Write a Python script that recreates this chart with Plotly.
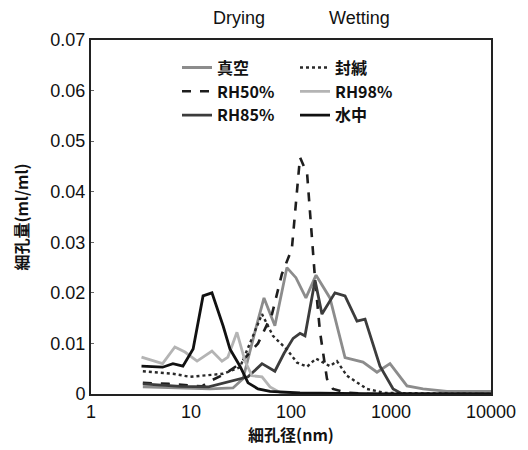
import plotly.graph_objects as go

# ---- data (pore diameter nm, pore volume ml/ml) ----
vac_x = [3.3, 7.8, 15.5, 26.3, 33.1, 43.7, 53.7, 69, 91, 112, 141, 178, 245, 347, 525, 724, 977, 1445, 2089, 3630, 7760, 10000]
vac_y = [0.0014, 0.0012, 0.0010, 0.0012, 0.0030, 0.0124, 0.0190, 0.0135, 0.0250, 0.0230, 0.0190, 0.0235, 0.0190, 0.0072, 0.0063, 0.0043, 0.0060, 0.0016, 0.0010, 0.0005, 0.0006, 0.0005]

rh50_x = [3.3, 6.0, 12.9, 15.0, 21.9, 30.9, 46.8, 64.6, 81, 102, 123, 145, 174, 195, 229, 263, 355, 600, 10000]
rh50_y = [0.0022, 0.0020, 0.0015, 0.0024, 0.0040, 0.0060, 0.0100, 0.0158, 0.0237, 0.0287, 0.0468, 0.0435, 0.0227, 0.0123, 0.0030, 0.0010, 0.0003, 0.0, 0.0]

rh85_x = [3.3, 7.8, 15.0, 37.2, 51.3, 69, 85, 105, 123, 138, 174, 204, 275, 347, 457, 550, 776, 1050, 1300, 10000]
rh85_y = [0.0020, 0.0015, 0.0014, 0.0034, 0.0060, 0.0045, 0.0080, 0.0110, 0.0120, 0.0115, 0.0225, 0.0158, 0.0200, 0.0194, 0.0144, 0.0148, 0.0055, 0.0010, 0.0, 0.0]

sealed_x = [3.3, 6.6, 9.8, 21.0, 30.9, 39.8, 51.3, 66, 91, 115, 145, 178, 245, 288, 363, 575, 870, 10000]
sealed_y = [0.0045, 0.0040, 0.0034, 0.0040, 0.0053, 0.0105, 0.0158, 0.0115, 0.0088, 0.0062, 0.0054, 0.0070, 0.0055, 0.0065, 0.0036, 0.0010, 0.0002, 0.0]

rh98_x = [3.2, 5.2, 6.9, 8.7, 11.5, 16.2, 20.4, 23.4, 28.8, 34.7, 40.7, 51.3, 61.7, 77.6, 123]
rh98_y = [0.0073, 0.0060, 0.0093, 0.0083, 0.0065, 0.0085, 0.0065, 0.0073, 0.0122, 0.0065, 0.0036, 0.0034, 0.0014, 0.0003, 0.0]

water_x = [3.2, 5.2, 6.6, 8.3, 10.5, 13.2, 16.2, 21.0, 24.5, 30.9, 37.2, 46.8, 61.7, 123, 309, 1000, 10000]
water_y = [0.0055, 0.0053, 0.0060, 0.0055, 0.0089, 0.0194, 0.0200, 0.0134, 0.0089, 0.0055, 0.0022, 0.0010, 0.0005, 0.0002, 0.0001, 0.0, 0.0]

x_ticks = [1, 10, 100, 1000, 10000]
y_ticks = [0, 0.01, 0.02, 0.03, 0.04, 0.05, 0.06, 0.07]

FONT = "Liberation Sans, Arial, Noto Sans CJK JP"
CJK = "Noto Sans CJK JP, Liberation Sans"

fig = go.Figure()
series = [
    ("真空", vac_x, vac_y, "#8c8c8c", "solid", 2.8, "legend"),
    ("RH50%", rh50_x, rh50_y, "#1e1e1e", "dash", 2.6, "legend"),
    ("RH85%", rh85_x, rh85_y, "#3c3c3c", "solid", 2.8, "legend"),
    ("封緘", sealed_x, sealed_y, "#2a2a2a", "dot", 2.4, "legend2"),
    ("RH98%", rh98_x, rh98_y, "#b4b4b4", "solid", 2.8, "legend2"),
    ("水中", water_x, water_y, "#111111", "solid", 2.8, "legend2"),
]
for name, xs, ys, col, dash, w, lg in series:
    fig.add_trace(go.Scatter(x=xs, y=ys, mode="lines", name=name,
                             line=dict(color=col, dash=dash, width=w),
                             legend=lg))

legfont = dict(family=CJK, size=16, color="#111", weight="bold")
fig.update_layout(
    width=528, height=450,
    margin=dict(l=91, r=33, t=40, b=56),
    paper_bgcolor="white", plot_bgcolor="white",
    font=dict(family=FONT, size=16, color="#111"),
    legend=dict(x=0.215, y=0.97, xanchor="left", yanchor="top",
                bgcolor="rgba(0,0,0,0)", tracegroupgap=0, itemwidth=30,
                font=legfont),
    legend2=dict(x=0.51, y=0.97, xanchor="left", yanchor="top",
                 bgcolor="rgba(0,0,0,0)", tracegroupgap=0, itemwidth=30,
                 font=legfont),
    showlegend=True,
)
fig.update_xaxes(type="log", range=[0, 4], tickvals=x_ticks,
                 ticktext=[str(v) for v in x_ticks],
                 showgrid=False, zeroline=False,
                 showline=True, mirror=True, linecolor="#222", linewidth=2,
                 ticks="", tickfont=dict(size=18, family=FONT),
                 title=dict(text="細孔径(nm)", standoff=4,
                            font=dict(family=CJK, size=16, weight="bold")))
fig.update_yaxes(range=[0, 0.07], tickvals=y_ticks,
                 ticktext=["0" if v == 0 else f"{v:.2f}" for v in y_ticks],
                 showgrid=False, zeroline=False,
                 showline=True, mirror=True, linecolor="#222", linewidth=2,
                 ticks="inside", ticklen=3, tickcolor="#666",
                 tickfont=dict(size=18, family=FONT),
                 title=dict(text="細孔量(ml/ml)", standoff=18,
                            font=dict(family=CJK, size=16, weight="bold")))

for txt, xp in [("Drying", 240), ("Wetting", 362)]:
    fig.add_annotation(text=txt, xref="paper", yref="paper",
                       x=(xp - 91) / 404, y=1, yshift=22, showarrow=False,
                       xanchor="center", yanchor="middle",
                       font=dict(family=FONT, size=18, color="#111"))

fig.write_html("out.html")
